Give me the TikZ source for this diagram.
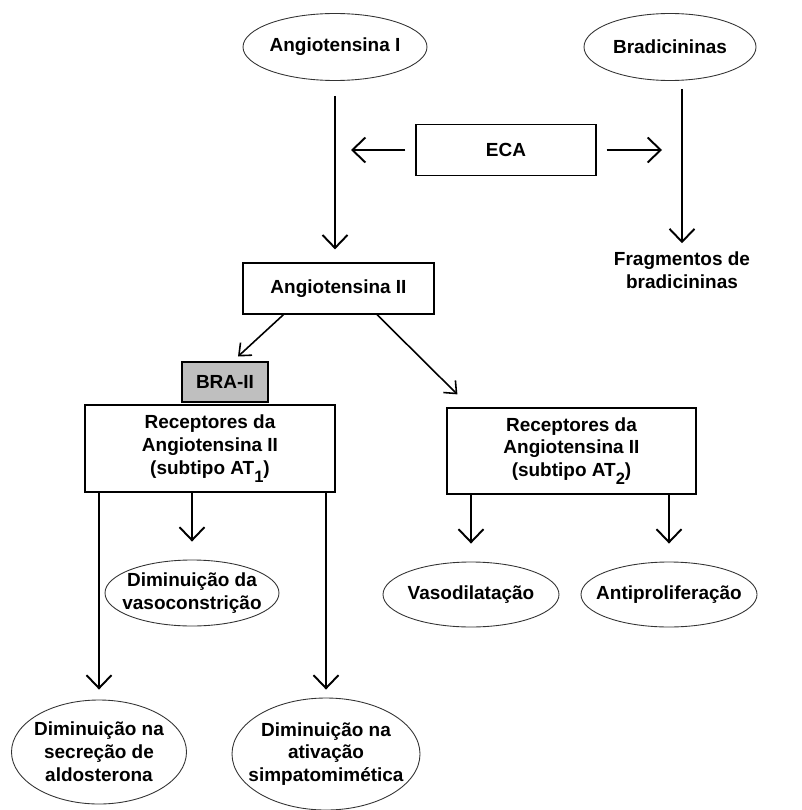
\documentclass[tikz,border=0pt]{standalone}
\usepackage{fontspec}
\setmainfont{Liberation Sans}
\usepackage{xcolor}
\usepackage{tikz}
\usetikzlibrary{arrows.meta, positioning, shapes.geometric}

\newcommand{\lowsub}[1]{\raisebox{-4.5pt}{\fontsize{9.4}{10}\selectfont #1}}

\begin{document}
\begin{tikzpicture}[
  font=\fontsize{10.8}{13}\selectfont\bfseries,
  arrow/.style={-{Straight Barb[length=0.26cm, width=0.5cm]}, line width=1.1pt},
  small_arrow/.style={-{Straight Barb[length=0.2cm, width=0.34cm]}, line width=0.9pt},
  plain_box/.style={draw, rectangle, line width=0.7pt, align=center, inner sep=0pt},
  drug_box/.style={draw, rectangle, fill=black!25, line width=1.7pt, minimum width=1.72cm, minimum height=0.8cm},
  oval_node/.style={draw=black!80, ellipse, line width=0.5pt, align=center, inner xsep=-0.6cm, inner ysep=-0.3cm}
]
  \useasboundingbox (0,0) rectangle (16.02,-16.2);

  % Top: substrates of ECA
  \node (ang_one) [oval_node, minimum width=3.68cm, minimum height=1.34cm] at (6.70, -0.94) {Angiotensina I};
  \node (brad) [oval_node, minimum width=3.44cm, minimum height=1.34cm] at (13.40, -0.94) {Bradicininas};
  \node (eca) [plain_box, minimum width=3.6cm, minimum height=1.02cm] at (10.12, -3.00) {ECA};
  \coordinate (eca_left) at (7.02, -3.00);
  \coordinate (eca_right) at (13.24, -3.00);

  \node (ang_two) [plain_box, minimum width=3.82cm, minimum height=1.02cm] at (6.77, -5.77) {Angiotensina II};
  \node (frag) [align=center, inner sep=2pt] at (13.64, -5.40) {Fragmentos de\\bradicininas};

  % Receptors (blocker on AT1)
  \node (bra) [drug_box] at (4.50, -7.64) {BRA-II};
  \node (at_one) [plain_box, minimum width=5.0cm, minimum height=1.74cm] at (4.20, -8.97) {Receptores da\\Angiotensina II\\ (subtipo AT\lowsub{1})};
  \node (at_two) [plain_box, minimum width=4.98cm, minimum height=1.72cm] at (11.43, -9.02) {Receptores da\\Angiotensina II\\ (subtipo AT\lowsub{2})};

  % Effects
  \node (vaso_con) [oval_node, minimum width=3.48cm, minimum height=1.32cm] at (3.84, -11.86) {Diminuição da\\vasoconstrição};
  \node (aldo) [oval_node, minimum width=3.5cm, minimum height=2.08cm] at (1.98, -15.04) {Diminuição na\\secreção de\\aldosterona};
  \node (simp) [oval_node, minimum width=3.76cm, minimum height=2.24cm] at (6.52, -15.08) {Diminuição na\\ativação\\simpatomimética};
  \node (vaso_dil) [oval_node, minimum width=3.52cm, minimum height=1.30cm] at (9.42, -11.89) {Vasodilatação};
  \node (anti_prol) [oval_node, minimum width=3.52cm, minimum height=1.30cm] at (13.38, -11.89) {Antiproliferação};

  % Connections
  \draw[arrow, shorten <=0.3cm, shorten >=0.26cm] (ang_one.south) -- (ang_one.south |- ang_two.north);
  \draw[arrow, shorten <=0.16cm, shorten >=0.09cm] (frag.north |- brad.south) -- (frag.north);
  \draw[arrow, shorten <=0.2cm] (eca.west) -- (eca_left);
  \draw[arrow, shorten <=0.2cm] (eca.east) -- (eca_right);
  \draw[small_arrow] ([xshift=-1.1cm]ang_two.south) -- ([xshift=0.26cm, yshift=0.08cm]bra.north);
  \draw[small_arrow] ([xshift=0.77cm]ang_two.south) -- ([xshift=0.22cm, yshift=0.26cm]at_two.north west);
  \draw[arrow, shorten >=0.36cm] (vaso_con |- at_one.south) -- (vaso_con.north);
  \draw[arrow, shorten >=0.2cm] (aldo |- at_one.south) -- (aldo.north);
  \draw[arrow, shorten >=0.16cm] (simp |- at_one.south) -- (simp.north);
  \draw[arrow, shorten >=0.36cm] (vaso_dil |- at_two.south) -- (vaso_dil.north);
  \draw[arrow, shorten >=0.36cm] (anti_prol |- at_two.south) -- (anti_prol.north);

\end{tikzpicture}
\end{document}
